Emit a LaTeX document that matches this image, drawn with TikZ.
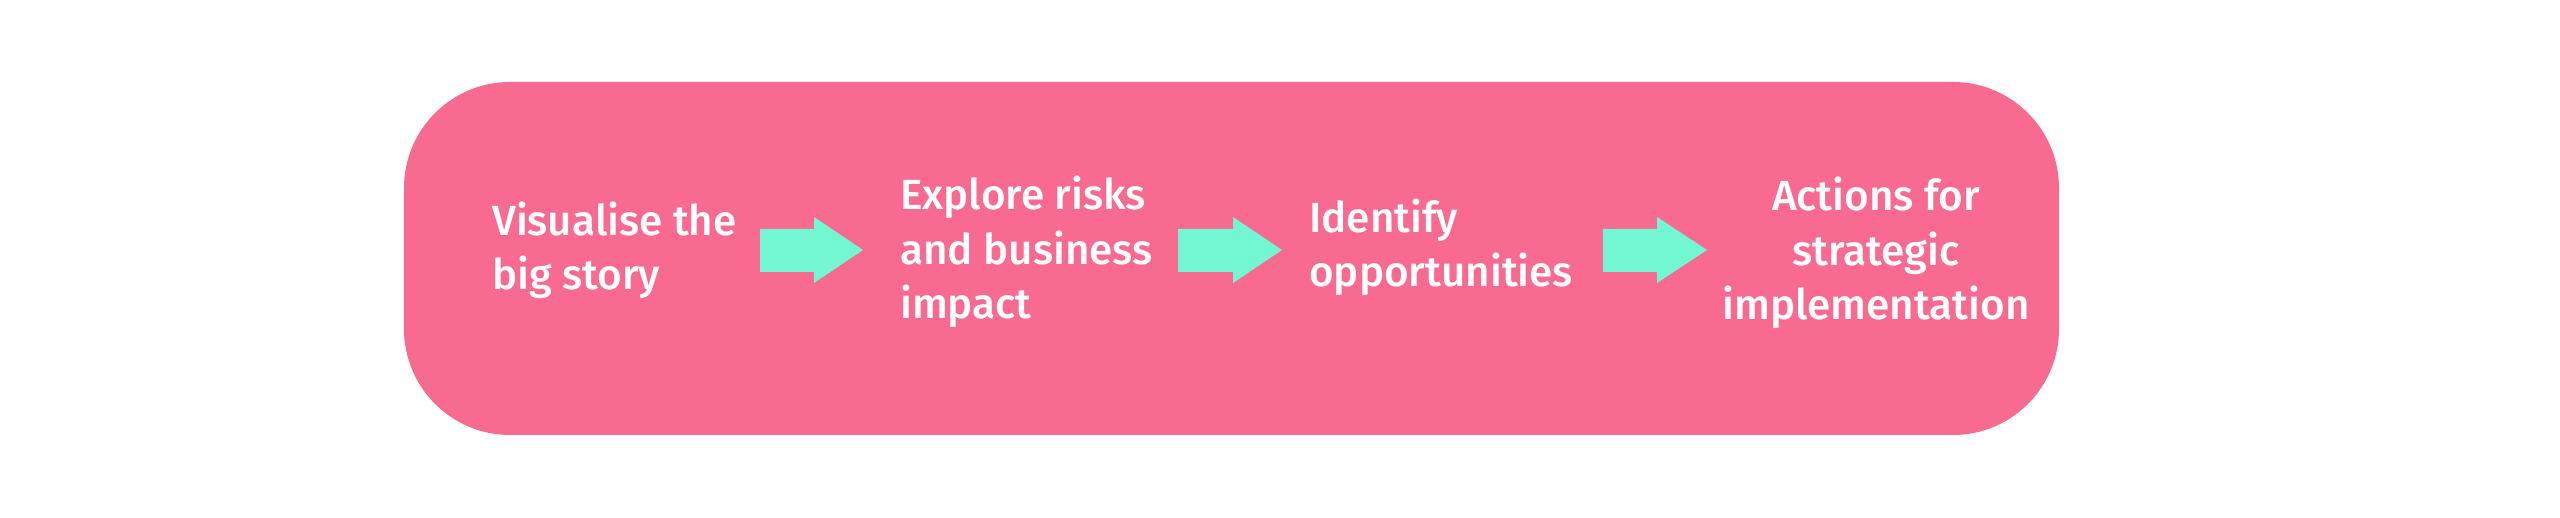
\documentclass[tikz,border=0pt]{standalone}
\usepackage{fontspec}
\setmainfont{Fira Sans}[UprightFont=* Medium]
\definecolor{pinkbg}{RGB}{249,106,145}
\definecolor{mint}{RGB}{115,246,210}
\begin{document}
\begin{tikzpicture}[x=1pt,y=1pt,
  label/.style={text=white, inner sep=0pt, font=\fontsize{42.2}{54.5}\selectfont},
  blockarrow/.style={fill=mint, draw=none}]
\useasboundingbox (0,0) rectangle (2560,518);
\fill[pinkbg, rounded corners=106pt] (404,83) rectangle (2059,436);
\node[label, anchor=base west, align=left] (t1) at (492,228) {Visualise the\\big story};
\node[label, anchor=base west, align=left] (t2) at (900,199) {Explore risks\\and business\\impact};
\node[label, anchor=base west, align=left] (t3) at (1309,231) {Identify\\opportunities};
\node[label, anchor=base, align=center] (t4) at (1876,198) {Actions for\\strategic\\implementation};
\fill[blockarrow] (760,246) -- (814,246) -- (814,235) -- (863,268) -- (814,301) -- (814,289) -- (760,289) -- cycle;
\fill[blockarrow] (1178,246) -- (1233,246) -- (1233,235) -- (1282,268) -- (1233,301) -- (1233,289) -- (1178,289) -- cycle;
\fill[blockarrow] (1603,246) -- (1657,246) -- (1657,235) -- (1707,268) -- (1657,301) -- (1657,289) -- (1603,289) -- cycle;
\end{tikzpicture}
\end{document}
